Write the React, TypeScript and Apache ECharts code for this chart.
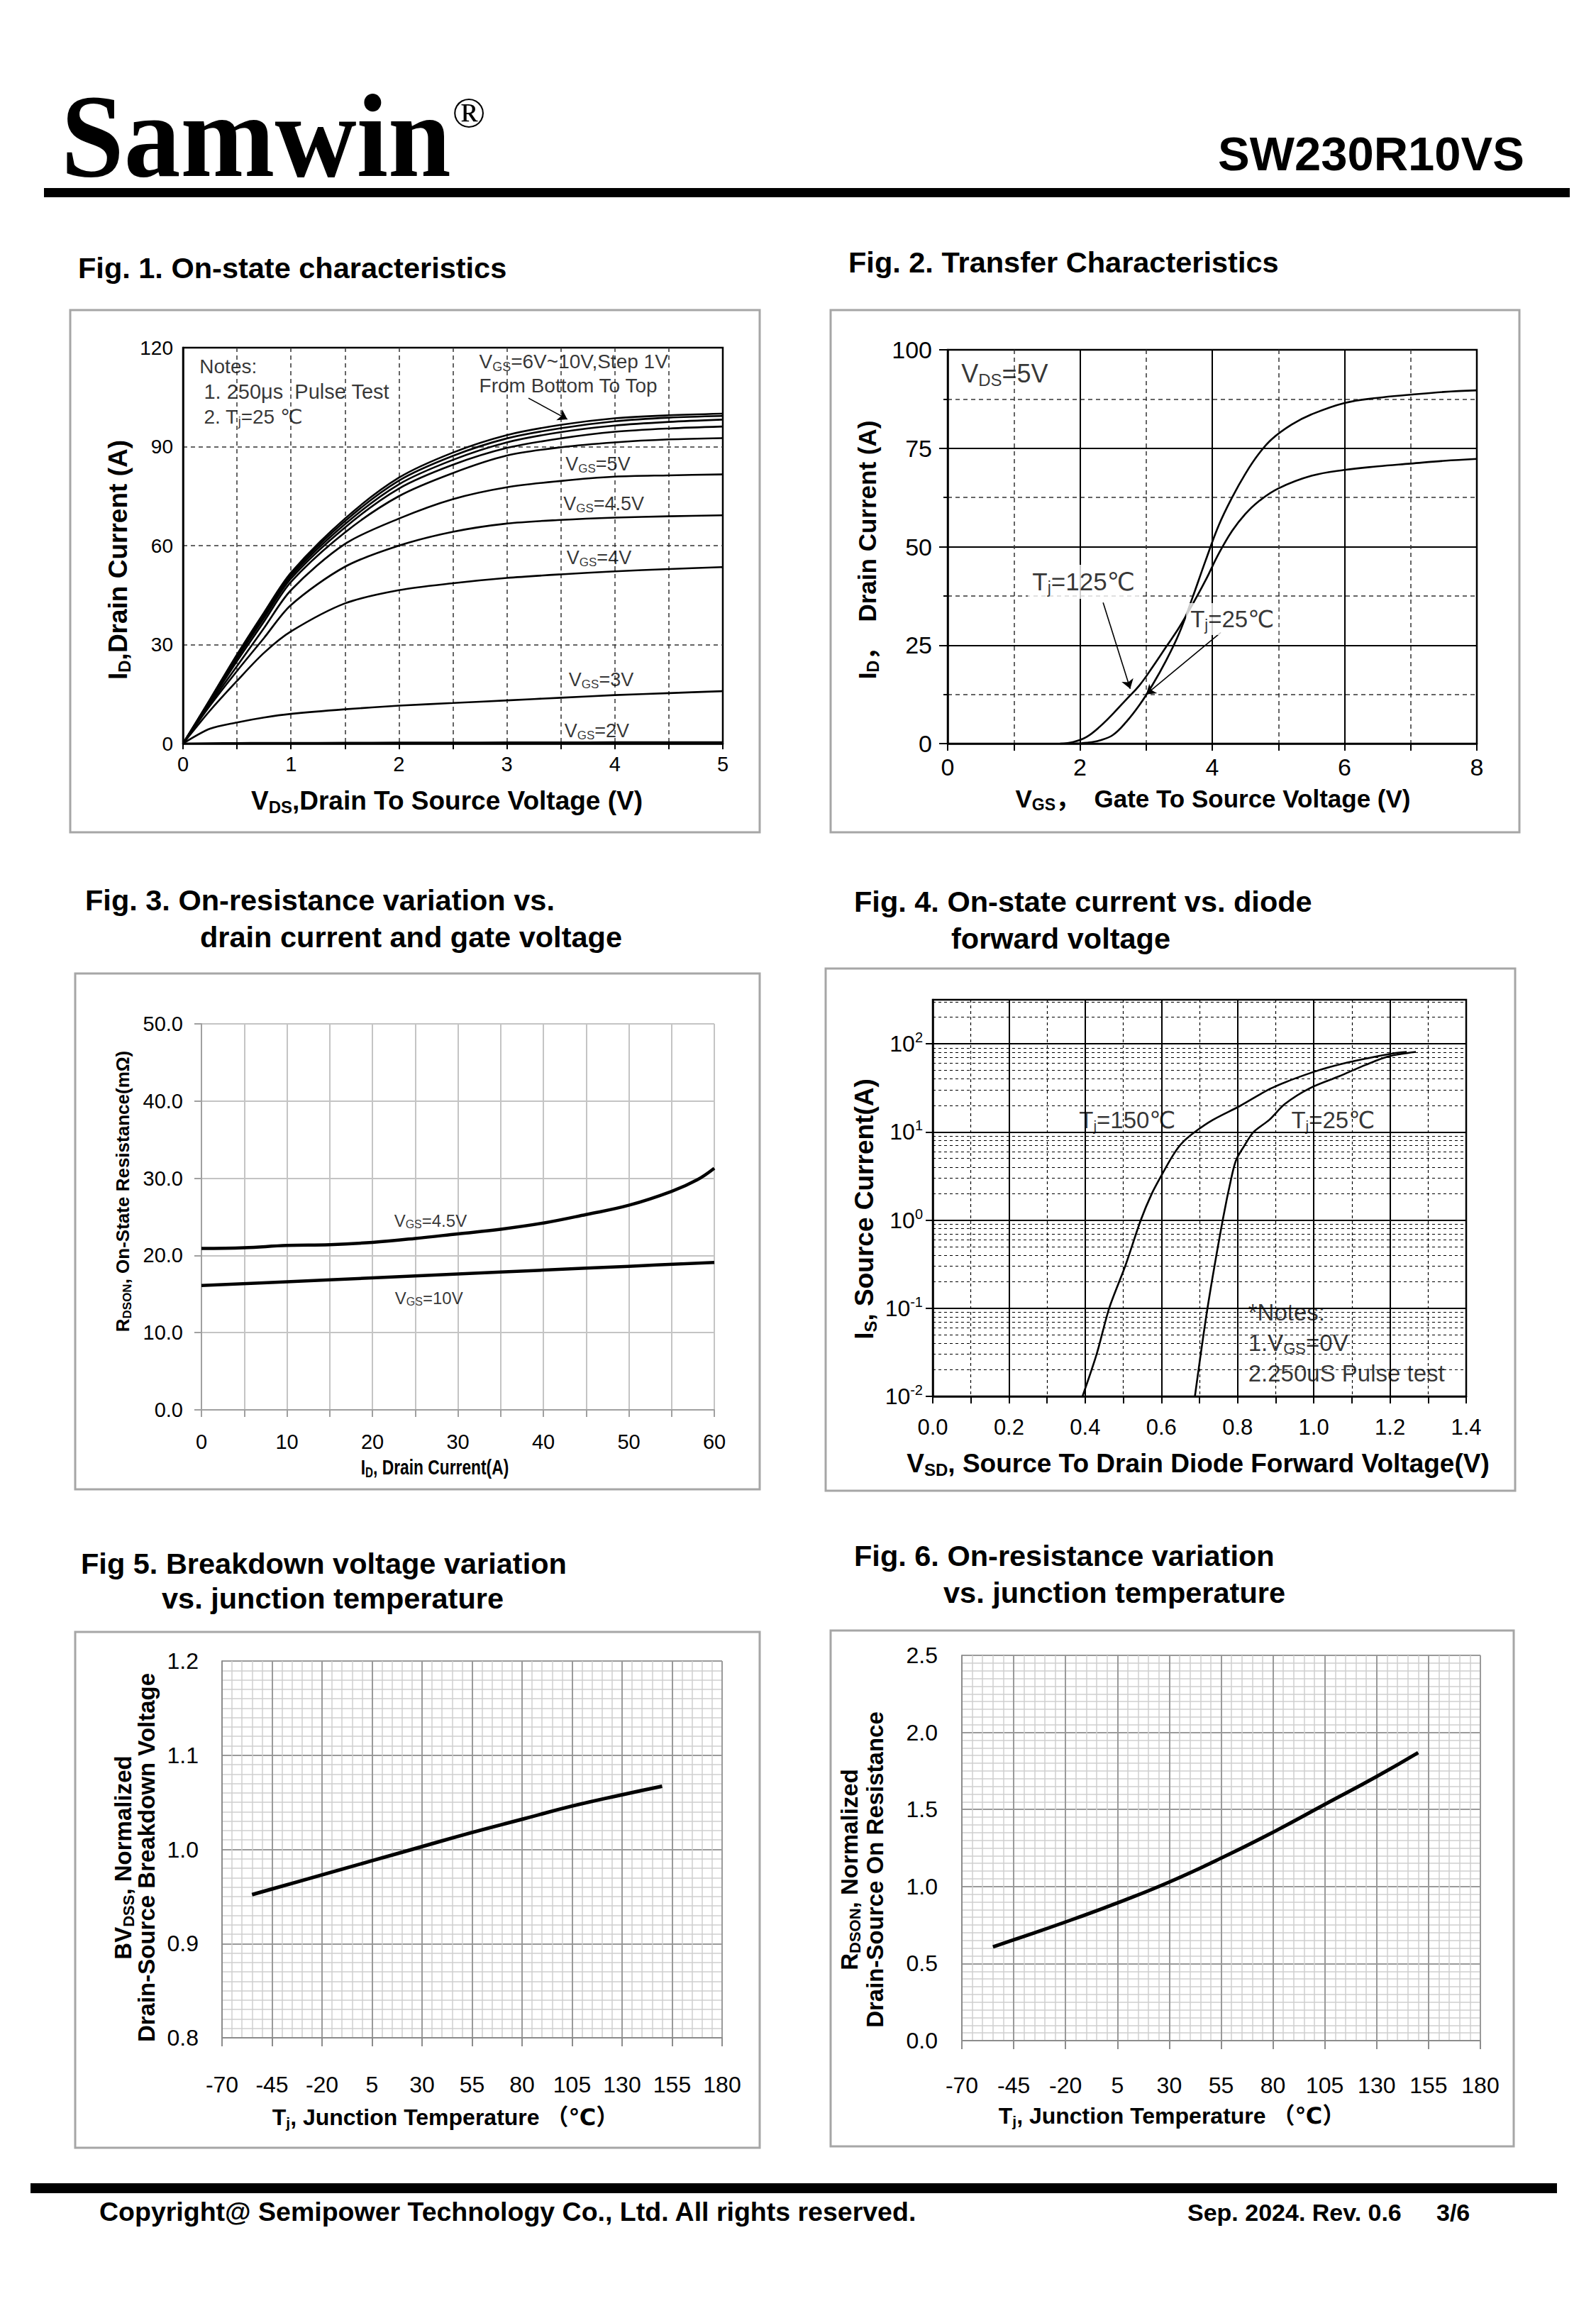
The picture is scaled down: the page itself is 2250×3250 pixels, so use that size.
import React, { useEffect, useRef } from "react";
import * as echarts from "echarts";

const FONT = "'Liberation Sans', Arial, Helvetica, 'DejaVu Sans', 'Noto Sans CJK SC', sans-serif";
const SERIF = "'Liberation Serif', 'Times New Roman', Times, serif";

// ---------------- Fig.1 On-state characteristics (ID vs VDS) ----------------
const fig1Vds = [0, 0.25, 0.5, 0.75, 1, 1.5, 2, 2.5, 3, 3.5, 4, 4.5, 5];
const fig1Vgs2 = [0, 0.1, 0.15, 0.2, 0.2, 0.25, 0.3, 0.3, 0.35, 0.35, 0.4, 0.4, 0.4];
const fig1Vgs3 = [0, 4.5, 6.4, 7.9, 9.0, 10.4, 11.5, 12.3, 13.1, 13.9, 14.7, 15.3, 15.9];
const fig1Vgs4 = [0, 10, 19, 27.5, 34, 42.5, 46.5, 48.6, 50.2, 51.3, 52.2, 52.9, 53.5];
const fig1Vgs45 = [0, 11.5, 22, 32, 42, 53.6, 60, 64.2, 66.7, 67.8, 68.5, 68.9, 69.2];
const fig1Vgs5 = [0, 12, 23.5, 35, 46.5, 60.5, 68.2, 74.1, 77.7, 79.6, 80.9, 81.3, 81.6];
const fig1Vgs6 = [0, 12.5, 25, 37, 49, 64, 75, 82, 87.3, 89.8, 91.3, 92.2, 92.6];
const fig1Vgs7 = [0, 12.8, 25.8, 38, 50, 65.5, 77.3, 84.5, 89.6, 92.5, 94.5, 95.5, 96.1];
const fig1Vgs8 = [0, 13, 26.3, 38.6, 50.7, 66.5, 78.6, 86, 91.3, 94.4, 96.4, 97.5, 98.2];
const fig1Vgs9 = [0, 13.2, 26.7, 39.2, 51.3, 67.4, 79.7, 87.2, 92.5, 95.6, 97.7, 98.8, 99.3];
const fig1Vgs10 = [0, 13.4, 27, 39.7, 51.8, 68.2, 80.6, 88.2, 93.5, 96.6, 98.6, 99.5, 100];
const fig1Curves = [fig1Vgs2, fig1Vgs3, fig1Vgs4, fig1Vgs45, fig1Vgs5, fig1Vgs6, fig1Vgs7, fig1Vgs8, fig1Vgs9, fig1Vgs10];

// ---------------- Fig.2 Transfer characteristics ----------------
const fig2Vgs25 = [1.9, 2.1, 2.3, 2.5, 2.7, 2.9, 3.1, 3.3, 3.5, 3.7, 3.9, 4.1, 4.3, 4.5, 4.7, 4.9, 5.2, 5.5, 6, 6.5, 7, 7.5, 8];
const fig2Id25 = [0, 0.2, 0.8, 2.2, 5.5, 9.8, 15, 21, 28, 37, 46.5, 55.5, 62.5, 68.5, 73.5, 77.3, 81, 83.6, 86.5, 87.8, 88.6, 89.3, 89.7];
const fig2Vgs125 = [1.7, 1.9, 2.1, 2.3, 2.5, 2.7, 2.9, 3.1, 3.3, 3.5, 3.7, 3.9, 4.1, 4.3, 4.5, 4.7, 5, 5.5, 6, 6.5, 7, 7.5, 8];
const fig2Id125 = [0, 0.4, 1.7, 4.3, 7.6, 11.2, 14.8, 19.5, 24.5, 29.5, 35.3, 41.5, 48.3, 54, 58.3, 61.5, 64.8, 68, 69.5, 70.4, 71.1, 71.8, 72.3];

// ---------------- Fig.3 RDSON vs ID ----------------
const fig3IdA = [0, 5, 10, 15, 20, 25, 30, 35, 40, 45, 50, 55, 58, 60];
const fig3R45 = [20.9, 21.0, 21.3, 21.4, 21.7, 22.2, 22.8, 23.4, 24.2, 25.3, 26.5, 28.3, 29.8, 31.3];
const fig3IdB = [0, 10, 20, 30, 40, 50, 60];
const fig3R10 = [16.1, 16.6, 17.1, 17.6, 18.1, 18.6, 19.1];

// ---------------- Fig.4 Diode forward ----------------
const fig4Vsd150 = [0.393, 0.43, 0.463, 0.505, 0.546, 0.575, 0.6, 0.63, 0.653, 0.688, 0.735, 0.806, 0.889, 0.996, 1.09, 1.21, 1.244];
const fig4Is150 = [0.01, 0.03, 0.1, 0.3, 1, 2, 3.2, 5.4, 7.4, 10, 13.7, 19.7, 31.4, 47.4, 61.5, 78, 81];
const fig4Vsd25 = [0.688, 0.721, 0.761, 0.785, 0.797, 0.818, 0.842, 0.883, 0.925, 0.99, 1.067, 1.137, 1.197, 1.268];
const fig4Is25 = [0.01, 0.1, 1, 3.2, 4.9, 7, 10, 13.7, 20.9, 31.4, 42.9, 57.9, 72, 81];

// ---------------- Fig.5 BVDSS vs Tj ----------------
const fig5Tj = [-55, -45, -20, 5, 30, 55, 80, 105, 130, 150];
const fig5Bv = [0.952, 0.958, 0.973, 0.988, 1.003, 1.018, 1.032, 1.046, 1.058, 1.067];

// ---------------- Fig.6 RDSON vs Tj ----------------
const fig6Tj = [-55, -45, -20, 5, 30, 55, 80, 105, 130, 150];
const fig6R = [0.608, 0.654, 0.77, 0.894, 1.029, 1.184, 1.352, 1.533, 1.714, 1.869];

// ---------------- helpers ----------------
function pairs(xs: number[], ys: number[]) {
  return xs.map((x, i) => [x, ys[i]]);
}

function richSub(fm: number, fs: number, weight: string) {
  const hm = Math.round(fm * 1.25);
  const hs = Math.max(6, Math.round(hm - 2 * (0.3465 * (fm - fs) + 0.12 * fm)));
  return {
    m: { fontSize: fm, fontWeight: weight, fontFamily: FONT, color: "#000", height: hm, lineHeight: hm, verticalAlign: "bottom" },
    s: { fontSize: fs, fontWeight: weight, fontFamily: FONT, color: "#000", height: hs, lineHeight: hs, verticalAlign: "bottom" },
  };
}

function line(idx: number, data: number[][], width: number, smooth = 0.3) {
  return {
    type: "line",
    xAxisIndex: idx,
    yAxisIndex: idx,
    data,
    smooth,
    showSymbol: false,
    symbol: "none",
    silent: true,
    lineStyle: { color: "#000", width },
    z: 3,
  };
}

type Note = { x: number; y: number; text: string; size: number; sub?: number; bg?: boolean };

function annotSeries(idx: number, notes: Note[], extra: any = {}) {
  return {
    type: "scatter",
    xAxisIndex: idx,
    yAxisIndex: idx,
    symbolSize: 1,
    silent: true,
    z: 6,
    itemStyle: { color: "rgba(0,0,0,0)" },
    data: notes.map((n) => ({
      value: [n.x, n.y],
      label: {
        show: true,
        position: "right",
        distance: 0,
        formatter: n.text,
        rich: richSub(n.size, n.sub ?? Math.round(n.size * 0.65), "normal"),
        backgroundColor: n.bg ? "#fff" : "transparent",
        padding: n.bg ? [2, 6] : 0,
      },
    })),
    ...extra,
  };
}

function gtext(x: number, y: number, text: string, o: any = {}) {
  return {
    type: "text",
    x,
    y,
    rotation: o.rotation || 0,
    scaleX: o.scaleX || 1,
    z: 20,
    silent: true,
    style: {
      text,
      fill: "#000",
      fontSize: o.size || 30,
      fontWeight: o.weight || "normal",
      fontFamily: o.family || FONT,
      align: o.align || "left",
      verticalAlign: o.valign || "middle",
      rich: o.rich,
    },
  };
}

function box(x: number, y: number, w: number, h: number) {
  return {
    type: "rect",
    shape: { x, y, width: w, height: h },
    style: { fill: "none", stroke: "#a6a6a6", lineWidth: 3 },
    z: 1,
    silent: true,
  };
}

const lbl = (size: number, margin: number, extra: any = {}) => ({
  show: true,
  color: "#000",
  fontSize: size,
  fontFamily: FONT,
  margin,
  ...extra,
});
const axLine = (color: string, width = 2) => ({ show: true, onZero: false, lineStyle: { color, width } });
const dashed = (color = "#333", width = 1.5) => ({ color, width, type: [6, 5] as any });

// minor decade lines of the log axis in Fig.4
const fig4Minor: number[] = [];
[0.01, 0.1, 1, 10, 100].forEach((d) => {
  for (let k = 2; k <= 9; k++) {
    const v = d * k;
    if (v < 316) fig4Minor.push(+v.toPrecision(3));
  }
});

function buildOption() {
  const grids = [
    { left: 258, top: 490, width: 761, height: 558, show: true, borderColor: "#000", borderWidth: 2.5, backgroundColor: "transparent" },
    { left: 1336, top: 493, width: 746, height: 555, show: true, borderColor: "#000", borderWidth: 2.5, backgroundColor: "transparent" },
    { left: 284, top: 1443, width: 723, height: 544 },
    { left: 1315, top: 1409, width: 752, height: 559, show: true, borderColor: "#000", borderWidth: 2.5, backgroundColor: "transparent" },
    { left: 313, top: 2341, width: 705, height: 531 },
    { left: 1356, top: 2333, width: 731, height: 543 },
  ];

  const gray5 = "#8c8c8c";
  const xAxis: any[] = [
    {
      gridIndex: 0, type: "value", min: 0, max: 5, interval: 1,
      axisLine: axLine("#000", 2.5),
      axisTick: { show: true, length: 8, lineStyle: { color: "#000", width: 2 } },
      minorTick: { show: true, splitNumber: 2, length: 8, lineStyle: { color: "#000", width: 2 } },
      splitLine: { show: true, showMinLine: false, showMaxLine: false, lineStyle: dashed() },
      minorSplitLine: { show: true, lineStyle: dashed() },
      axisLabel: lbl(29, 14),
    },
    {
      gridIndex: 1, type: "value", min: 0, max: 8, interval: 2,
      axisLine: axLine("#000", 2.5),
      axisTick: { show: true, length: 10, lineStyle: { color: "#000", width: 2 } },
      minorTick: { show: true, splitNumber: 2, length: 10, lineStyle: { color: "#000", width: 2 } },
      splitLine: { show: true, showMinLine: false, showMaxLine: false, lineStyle: { color: "#000", width: 2 } },
      minorSplitLine: { show: true, lineStyle: dashed() },
      axisLabel: lbl(34, 16),
    },
    {
      gridIndex: 2, type: "value", min: 0, max: 60, interval: 10,
      axisLine: axLine("#a0a0a0", 2),
      axisTick: { show: true, length: 10, lineStyle: { color: "#a0a0a0", width: 2 } },
      minorTick: { show: true, splitNumber: 2, length: 10, lineStyle: { color: "#a0a0a0", width: 2 } },
      splitLine: { show: true, lineStyle: { color: "#c4c4c4", width: 2 } },
      minorSplitLine: { show: true, lineStyle: { color: "#c4c4c4", width: 2 } },
      axisLabel: lbl(29, 30),
    },
    {
      gridIndex: 3, type: "value", min: 0, max: 1.4, interval: 0.2,
      axisLine: axLine("#000", 2.5),
      axisTick: { show: true, length: 10, lineStyle: { color: "#000", width: 2 } },
      minorTick: { show: true, splitNumber: 2, length: 10, lineStyle: { color: "#000", width: 2 } },
      splitLine: { show: true, showMinLine: false, showMaxLine: false, lineStyle: { color: "#000", width: 2 } },
      minorSplitLine: { show: true, lineStyle: { color: "#000", width: 1.2, type: [4, 4] } },
      axisLabel: lbl(31, 28, { formatter: (v: number) => v.toFixed(1) }),
    },
    {
      gridIndex: 4, type: "value", min: -70, max: 180, interval: 25,
      axisLine: axLine(gray5, 2),
      axisTick: { show: true, length: 12, lineStyle: { color: gray5, width: 2 } },
      minorTick: { show: false, splitNumber: 5 },
      splitLine: { show: true, lineStyle: { color: "#9a9a9a", width: 2 } },
      minorSplitLine: { show: true, lineStyle: { color: "#cfcfcf", width: 1.5 } },
      axisLabel: lbl(32, 50),
    },
    {
      gridIndex: 5, type: "value", min: -70, max: 180, interval: 25,
      axisLine: axLine(gray5, 2),
      axisTick: { show: true, length: 12, lineStyle: { color: gray5, width: 2 } },
      minorTick: { show: false, splitNumber: 5 },
      splitLine: { show: true, lineStyle: { color: "#9a9a9a", width: 2 } },
      minorSplitLine: { show: true, lineStyle: { color: "#cfcfcf", width: 1.5 } },
      axisLabel: lbl(32, 47),
    },
  ];

  const yAxis: any[] = [
    {
      gridIndex: 0, type: "value", min: 0, max: 120, interval: 30,
      axisLine: axLine("#000", 2.5),
      axisTick: { show: false },
      splitLine: { show: true, showMinLine: false, showMaxLine: false, lineStyle: dashed() },
      axisLabel: lbl(28, 14),
    },
    {
      gridIndex: 1, type: "value", min: 0, max: 100, interval: 25,
      axisLine: axLine("#000", 2.5),
      axisTick: { show: true, length: 12, lineStyle: { color: "#000", width: 2 } },
      minorTick: { show: true, splitNumber: 2, length: 6, lineStyle: { color: "#000", width: 2 } },
      splitLine: { show: true, showMinLine: false, showMaxLine: false, lineStyle: { color: "#000", width: 2 } },
      minorSplitLine: { show: true, lineStyle: dashed() },
      axisLabel: lbl(34, 22),
    },
    {
      gridIndex: 2, type: "value", min: 0, max: 50, interval: 10,
      axisLine: axLine("#a0a0a0", 2),
      axisTick: { show: true, length: 10, lineStyle: { color: "#a0a0a0", width: 2 } },
      splitLine: { show: true, lineStyle: { color: "#c4c4c4", width: 2 } },
      axisLabel: lbl(29, 26, { formatter: (v: number) => v.toFixed(1) }),
    },
    {
      gridIndex: 3, type: "log", logBase: 10, min: 0.01, max: 316.2,
      axisLine: axLine("#000", 2.5),
      axisTick: { show: true, length: 10, lineStyle: { color: "#000", width: 2 } },
      splitLine: { show: true, showMinLine: false, showMaxLine: false, lineStyle: { color: "#000", width: 2 } },
      axisLabel: {
        show: true,
        margin: 14,
        showMaxLabel: false,
        formatter: (v: number) => `{b|10}{s|${Math.round(Math.log10(v))}}`,
        rich: {
          b: { fontSize: 32, fontFamily: FONT, color: "#000", height: 40, lineHeight: 40, verticalAlign: "bottom" },
          s: { fontSize: 20, fontFamily: FONT, color: "#000", height: 22, lineHeight: 22, verticalAlign: "top" },
        },
      },
    },
    {
      gridIndex: 4, type: "value", min: 0.8, max: 1.2, interval: 0.1,
      axisLine: axLine(gray5, 2),
      axisTick: { show: false },
      minorTick: { show: false, splitNumber: 10 },
      splitLine: { show: true, lineStyle: { color: "#9a9a9a", width: 2 } },
      minorSplitLine: { show: true, lineStyle: { color: "#cfcfcf", width: 1.5 } },
      axisLabel: lbl(32, 33, { formatter: (v: number) => v.toFixed(1) }),
    },
    {
      gridIndex: 5, type: "value", min: 0, max: 2.5, interval: 0.5,
      axisLine: axLine(gray5, 2),
      axisTick: { show: false },
      minorTick: { show: false, splitNumber: 10 },
      splitLine: { show: true, lineStyle: { color: "#9a9a9a", width: 2 } },
      minorSplitLine: { show: true, lineStyle: { color: "#cfcfcf", width: 1.5 } },
      axisLabel: lbl(32, 34, { formatter: (v: number) => v.toFixed(1) }),
    },
  ];

  const series: any[] = [];
  fig1Curves.forEach((c) => series.push(line(0, pairs(fig1Vds, c), 2.6, 0.3)));
  series.push(line(1, pairs(fig2Vgs25, fig2Id25), 2.6, 0.4));
  series.push(line(1, pairs(fig2Vgs125, fig2Id125), 2.6, 0.4));
  series.push(line(2, pairs(fig3IdA, fig3R45), 4.5, 0.4));
  series.push(line(2, pairs(fig3IdB, fig3R10), 4.5, 0.4));
  series.push(line(3, pairs(fig4Vsd150, fig4Is150), 2.6, 0.3));
  series.push(line(3, pairs(fig4Vsd25, fig4Is25), 2.6, 0.3));
  series.push(line(4, pairs(fig5Tj, fig5Bv), 5, 0.5));
  series.push(line(5, pairs(fig6Tj, fig6R), 5, 0.5));

  const arrow = (data: any[]) => ({
    silent: true,
    symbol: ["none", "arrow"],
    symbolSize: 13,
    label: { show: false },
    lineStyle: { color: "#000", width: 1.6, type: "solid" },
    emphasis: { disabled: true },
    data,
  });

  // Fig.1 annotations
  series.push(
    annotSeries(
      0,
      [
        { x: 0.15, y: 114.3, text: "{m|Notes:}", size: 28 },
        { x: 0.19, y: 106.6, text: "{m|1. 250μs  Pulse Test}", size: 29 },
        { x: 0.19, y: 99.1, text: "{m|2. T}{s|j}{m|=25 ℃}", size: 28, sub: 18 },
        { x: 2.74, y: 115.7, text: "{m|V}{s|GS}{m|=6V~10V,Step 1V}", size: 28, sub: 18 },
        { x: 2.74, y: 108.6, text: "{m|From Bottom To Top}", size: 28 },
        { x: 3.54, y: 84.8, text: "{m|V}{s|GS}{m|=5V}", size: 27, sub: 17 },
        { x: 3.52, y: 72.6, text: "{m|V}{s|GS}{m|=4.5V}", size: 27, sub: 17 },
        { x: 3.55, y: 56.4, text: "{m|V}{s|GS}{m|=4V}", size: 27, sub: 17 },
        { x: 3.57, y: 19.4, text: "{m|V}{s|GS}{m|=3V}", size: 27, sub: 17 },
        { x: 3.53, y: 3.8, text: "{m|V}{s|GS}{m|=2V}", size: 27, sub: 17 },
      ],
      { markLine: arrow([[{ coord: [3.2, 104.7] }, { coord: [3.56, 98.3] }]]) }
    )
  );

  // Fig.2 annotations
  series.push(
    annotSeries(
      1,
      [
        { x: 0.2, y: 93.9, text: "{m|V}{s|DS}{m|=5V}", size: 36, sub: 24 },
        { x: 1.21, y: 41.1, text: "{m|T}{s|j}{m|=125℃}", size: 35, sub: 23, bg: true },
        { x: 3.6, y: 31.6, text: "{m|T}{s|j}{m|=25℃}", size: 33, sub: 22, bg: true },
      ],
      {
        markLine: arrow([
          [{ coord: [2.35, 35.8] }, { coord: [2.76, 13.9] }],
          [{ coord: [4.13, 28.2] }, { coord: [3.0, 12.5] }],
        ]),
      }
    )
  );

  // Fig.3 annotations
  series.push(
    annotSeries(2, [
      { x: 22.5, y: 24.5, text: "{m|V}{s|GS}{m|=4.5V}", size: 24, sub: 16 },
      { x: 22.6, y: 14.5, text: "{m|V}{s|GS}{m|=10V}", size: 24, sub: 16 },
    ])
  );

  // Fig.4 annotations + minor dashed decade lines
  series.push(
    annotSeries(
      3,
      [
        { x: 0.383, y: 13.7, text: "{m|T}{s|j}{m|=150℃}", size: 33, sub: 21 },
        { x: 0.94, y: 13.7, text: "{m|T}{s|j}{m|=25℃}", size: 33, sub: 21 },
        { x: 0.827, y: 0.0906, text: "{m|*Notes:}", size: 33 },
        { x: 0.827, y: 0.0405, text: "{m|1.V}{s|GS}{m|=0V}", size: 33, sub: 22 },
        { x: 0.827, y: 0.01824, text: "{m|2.250uS Pulse test}", size: 33 },
      ],
      {
        markLine: {
          silent: true,
          symbol: ["none", "none"],
          label: { show: false },
          lineStyle: { color: "#000", width: 1.1, type: [4, 4] },
          emphasis: { disabled: true },
          data: fig4Minor.map((v) => ({ yAxis: v })),
        },
      }
    )
  );

  const B = "bold";
  const T = 41.5;
  const graphic: any[] = [
    // header
    gtext(86, 191, "Samwin", { size: 168, weight: B, family: SERIF, scaleX: 0.95 }),
    gtext(661, 158, "®", { size: 62, family: SERIF, align: "center" }),
    gtext(2149, 216, "SW230R10VS", { size: 67, weight: B, align: "right" }),
    { type: "rect", shape: { x: 62, y: 265, width: 2151, height: 13 }, style: { fill: "#000" }, z: 5 },
    // footer
    { type: "rect", shape: { x: 43, y: 3077, width: 2152, height: 14 }, style: { fill: "#000" }, z: 5 },
    gtext(140, 3117, "Copyright@ Semipower Technology Co., Ltd. All rights reserved.", { size: 37.5, weight: B }),
    gtext(1674, 3118, "Sep. 2024. Rev. 0.6", { size: 34, weight: B }),
    gtext(2025, 3118, "3/6", { size: 34, weight: B }),
    // boxes
    box(99, 437, 972, 736),
    box(1171, 437, 971, 736),
    box(106, 1372, 965, 727),
    box(1164, 1365, 972, 736),
    box(106, 2300, 965, 727),
    box(1171, 2298, 963, 727),
    // titles
    gtext(110, 377, "Fig. 1. On-state characteristics", { size: T, weight: B }),
    gtext(1196, 369, "Fig. 2. Transfer Characteristics", { size: T, weight: B }),
    gtext(120, 1268, "Fig. 3. On-resistance variation vs.", { size: T, weight: B }),
    gtext(282, 1320, "drain current and gate voltage", { size: T, weight: B }),
    gtext(1204, 1270, "Fig. 4. On-state current vs. diode", { size: T, weight: B }),
    gtext(1341, 1322, "forward voltage", { size: T, weight: B }),
    gtext(114, 2203, "Fig 5. Breakdown voltage variation", { size: T, weight: B }),
    gtext(228, 2252, "vs. junction temperature", { size: T, weight: B }),
    gtext(1204, 2192, "Fig. 6. On-resistance variation", { size: T, weight: B }),
    gtext(1330, 2244, "vs. junction temperature", { size: T, weight: B }),
    // axis names
    gtext(166, 789, "{m|I}{s|D}{m|,Drain Current (A)}", { rotation: Math.PI / 2, align: "center", rich: richSub(37, 24, B) }),
    gtext(630, 1128, "{m|V}{s|DS}{m|,Drain To Source Voltage (V)}", { align: "center", rich: richSub(37, 24, B) }),
    gtext(1222, 775, "{m|I}{s|D}{m|，  Drain Current (A)}", { rotation: Math.PI / 2, align: "center", rich: richSub(35, 23, B) }),
    gtext(1710, 1125, "{m|V}{s|GS}{m|，  Gate To Source Voltage (V)}", { align: "center", rich: richSub(35, 23, B) }),
    gtext(173, 1679, "{m|R}{s|DSON}{m|, On-State Resistance(mΩ)}", { rotation: Math.PI / 2, align: "center", rich: richSub(26, 17, B) }),
    gtext(613, 2068, "{m|I}{s|D}{m|, Drain Current(A)}", { align: "center", scaleX: 0.76, rich: richSub(30, 20, B) }),
    gtext(1218, 1704, "{m|I}{s|S}{m|, Source Current(A)}", { rotation: Math.PI / 2, align: "center", rich: richSub(37, 24, B) }),
    gtext(1689, 2062, "{m|V}{s|SD}{m|, Source To Drain Diode Forward Voltage(V)}", { align: "center", rich: richSub(37, 24, B) }),
    gtext(173, 2618, "{m|BV}{s|DSS}{m|, Normalized}", { rotation: Math.PI / 2, align: "center", rich: richSub(33, 22, B) }),
    gtext(206, 2618, "Drain-Source Breakdown Voltage", { rotation: Math.PI / 2, align: "center", size: 33, weight: B }),
    gtext(628, 2984, "{m|T}{s|j}{m|, Junction Temperature （℃）}", { align: "center", rich: richSub(32, 21, B) }),
    gtext(1197, 2635, "{m|R}{s|DSON}{m|, Normalized}", { rotation: Math.PI / 2, align: "center", rich: richSub(33, 22, B) }),
    gtext(1233, 2635, "Drain-Source On Resistance", { rotation: Math.PI / 2, align: "center", size: 33, weight: B }),
    gtext(1652, 2982, "{m|T}{s|j}{m|, Junction Temperature （℃）}", { align: "center", rich: richSub(32, 21, B) }),
  ];

  return {
    animation: false,
    backgroundColor: "#fff",
    textStyle: { fontFamily: FONT },
    grid: grids,
    xAxis,
    yAxis,
    series,
    graphic,
  };
}

export default function App() {
  const ref = useRef<HTMLDivElement>(null);
  useEffect(() => {
    if (!ref.current) return;
    const chart = echarts.init(ref.current, null, { renderer: "svg", width: 2250, height: 3250 });
    chart.setOption(buildOption() as any);
    return () => chart.dispose();
  }, []);
  return (
    <div
      ref={ref}
      style={{ position: "absolute", left: 0, top: 0, width: 2250, height: 3250, background: "#fff" }}
    />
  );
}
